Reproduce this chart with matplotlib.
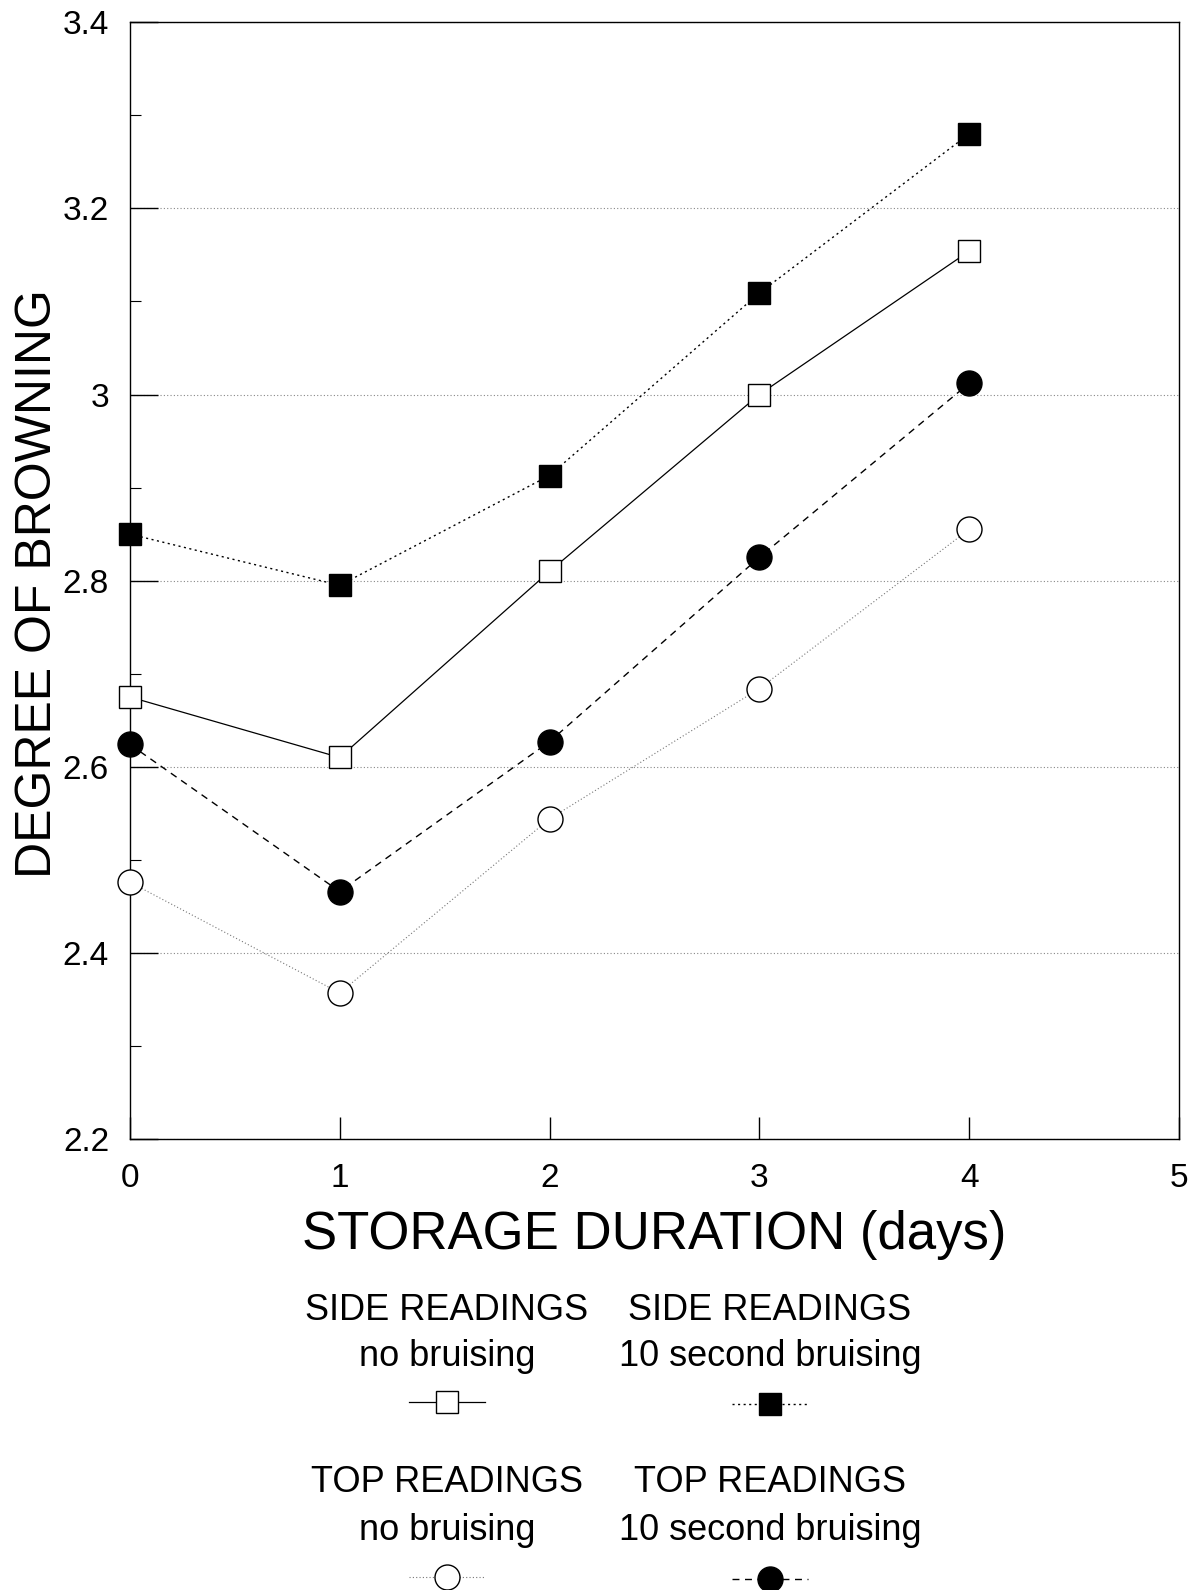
import matplotlib
matplotlib.use("Agg")
import matplotlib.pyplot as plt
from matplotlib.lines import Line2D
from matplotlib.ticker import MultipleLocator, FixedLocator

plt.rcParams['font.family'] = ['Liberation Sans', 'DejaVu Sans']

days = [0, 1, 2, 3, 4]
side_no_bruise = [2.675, 2.61, 2.81, 3.00, 3.154]
side_10s_bruise = [2.85, 2.795, 2.913, 3.109, 3.28]
top_no_bruise = [2.476, 2.357, 2.544, 2.684, 2.855]
top_10s_bruise = [2.624, 2.466, 2.627, 2.825, 3.012]

y_ticks = [2.2, 2.4, 2.6, 2.8, 3.0, 3.2, 3.4]
y_tick_labels = ["2.2", "2.4", "2.6", "2.8", "3", "3.2", "3.4"]
x_ticks = [0, 1, 2, 3, 4, 5]
x_tick_labels = ["0", "1", "2", "3", "4", "5"]

fig = plt.figure(figsize=(11.92, 15.9), dpi=100)
ax = fig.add_axes([0.109, 0.2836, 0.880, 0.7024])

styles = [
    (side_no_bruise, dict(color="black", lw=0.9, ls="-", marker="s", ms=16, mfc="white", mec="black", mew=1.0)),
    (side_10s_bruise, dict(color="black", lw=1.0, ls=(0, (1.5, 2.5)), marker="s", ms=16, mfc="black", mec="black", mew=1.0)),
    (top_no_bruise, dict(color="#777777", lw=0.8, ls=(0, (1, 2)), marker="o", ms=18, mfc="white", mec="black", mew=1.0)),
    (top_10s_bruise, dict(color="black", lw=1.0, ls=(0, (5, 4)), marker="o", ms=18, mfc="black", mec="black", mew=1.0)),
]
for vals, st in styles:
    ax.plot(days, vals, clip_on=False, zorder=3, **st)

ax.set_xlim(0, 5)
ax.set_ylim(2.2, 3.4)
ax.yaxis.set_major_locator(FixedLocator(y_ticks))
ax.set_yticklabels(y_tick_labels)
ax.yaxis.set_minor_locator(MultipleLocator(0.1))
ax.xaxis.set_major_locator(FixedLocator(x_ticks))
ax.set_xticklabels(x_tick_labels)
ax.tick_params(axis="y", which="major", direction="in", length=20, width=1.0, labelsize=24, pad=15)
ax.tick_params(axis="y", which="minor", direction="in", length=8, width=0.8)
ax.tick_params(axis="x", which="major", direction="in", length=16, width=1.0, labelsize=24, pad=17)
ax.grid(axis="y", which="major", color="#888888", lw=0.8, ls=(0, (1, 2)))
for s in ax.spines.values():
    s.set_linewidth(1.0)

ax.set_ylabel("DEGREE OF BROWNING", fontsize=36)
ax.yaxis.set_label_coords(-0.066, 0.497)
ax.set_xlabel("STORAGE DURATION (days)", fontsize=38, labelpad=12)

# legend block
col_x = [447 / 1192, 770 / 1192]
rows = [
    ("SIDE READINGS", "no bruising", 1310, 1356, 1402, styles[0][1]),
    ("SIDE READINGS", "10 second bruising", 1310, 1356, 1404, styles[1][1]),
    ("TOP READINGS", "no bruising", 1483, 1530, 1577, styles[2][1]),
    ("TOP READINGS", "10 second bruising", 1483, 1530, 1579, styles[3][1]),
]
H = 1590
for i, (t1, t2, y1, y2, y3, st) in enumerate(rows):
    cx = col_x[i % 2]
    fig.text(cx, 1 - y1 / H, t1, ha="center", va="center", fontsize=26)
    fig.text(cx, 1 - y2 / H, t2, ha="center", va="center", fontsize=26)
    half = 38 / 1192
    fig.add_artist(Line2D([cx - half, cx + half], [1 - y3 / H] * 2, transform=fig.transFigure,
                          color=st["color"], lw=st["lw"], ls=st["ls"]))
    fig.add_artist(Line2D([cx], [1 - y3 / H], transform=fig.transFigure, ls="none",
                          marker=st["marker"], ms=st["ms"], mfc=st["mfc"], mec=st["mec"], mew=st["mew"]))

fig.savefig("out.png", dpi=100)
